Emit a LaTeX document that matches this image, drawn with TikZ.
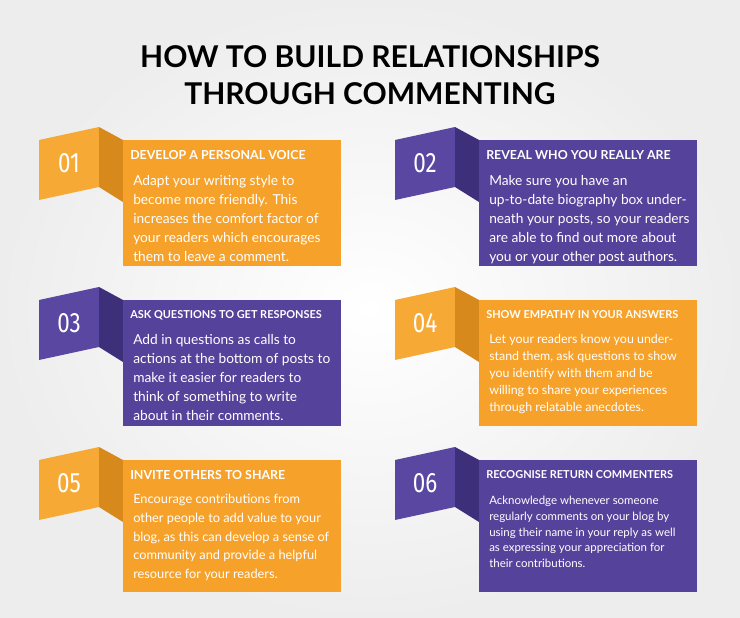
\documentclass[tikz,border=0pt]{standalone}
\usepackage{fontspec}
\setmainfont{Lato}
\newfontfamily\numfont{Fira Sans}
\usetikzlibrary{positioning}

\definecolor{orangemain}{HTML}{F6A12A}
\definecolor{orangeside}{HTML}{D8891C}
\definecolor{orangefront}{HTML}{F7A936}
\definecolor{purplemain}{HTML}{55429B}
\definecolor{purpleside}{HTML}{3D2F7A}
\definecolor{purplefront}{HTML}{5A47A2}

\tikzset{
	heading/.style={anchor=west,text=white,font=\bfseries\fontsize{9.3}{11}\selectfont,inner sep=0pt},
	bodytext/.style={anchor=north west,text=white,align=left,inner sep=0pt},
	number/.style={text=white,font=\numfont\fontsize{21}{22}\selectfont,xscale=.8,inner sep=0pt}
}

% #1 name, #2 x, #3 y, #4 height, #5 main, #6 side, #7 front, #8 number, #9 heading
\newcommand{\infocard}[9]{
	\fill[#7] (#2-84,#3) -- (#2-24,#3-13) -- (#2-24,#3+47) -- (#2-84,#3+60) -- cycle;
	\fill[#6] (#2-24,#3-13) -- (#2,#3) -- (#2,#3+62) -- (#2-24,#3+47) -- cycle;
	\fill[#5] (#2,#3) rectangle (#2+218,#3+#4);
	\node[number] (#1num) at (#2-54,#3+23) {#8};
	\node[heading] (#1head) at (#2+7,#3+15) {#9};
}

\begin{document}
\begin{tikzpicture}[x=0.75pt,y=-0.75pt]
	% background
	\shade[inner color=white,outer color=gray!14] (0,0) rectangle (740,618);
	\useasboundingbox (0,0) rectangle (740,618);

	% title
	\node[font=\bfseries\fontsize{22.5}{27.5}\selectfont,align=center] (title) at (370,75)
		{HOW TO BUILD RELATIONSHIPS\\THROUGH COMMENTING};

	% the six cards
	\infocard{a}{123}{140}{126}{orangemain}{orangeside}{orangefront}{01}{DEVELOP A PERSONAL VOICE}
	\infocard{b}{479}{140}{126}{purplemain}{purpleside}{purplefront}{02}{REVEAL WHO YOU REALLY ARE}
	\infocard{c}{123}{300}{126}{purplemain}{purpleside}{purplefront}{03}{\fontsize{8.2}{10}\selectfont ASK QUESTIONS TO GET RESPONSES}
	\infocard{d}{479}{300}{126}{orangemain}{orangeside}{orangefront}{04}{\fontsize{8.2}{10}\selectfont SHOW EMPATHY IN YOUR ANSWERS}
	\infocard{e}{123}{460}{132}{orangemain}{orangeside}{orangefront}{05}{INVITE OTHERS TO SHARE}
	\infocard{f}{479}{460}{132}{purplemain}{purpleside}{purplefront}{06}{\fontsize{8.2}{10}\selectfont RECOGNISE RETURN COMMENTERS}

	% card texts
	\node[bodytext,font=\fontsize{10.3}{14.2}\selectfont] (abody) at (133,175)
		{Adapt your writing style to\\become more friendly. This\\increases the comfort factor of\\your readers which encourages\\them to leave a comment.};
	\node[bodytext,font=\fontsize{10.3}{14.2}\selectfont] (bbody) at (489,175)
		{Make sure you have an\\up-to-date biography box under-\\neath your posts, so your readers\\are able to find out more about\\you or your other post authors.};
	\node[bodytext,font=\fontsize{10.3}{14.2}\selectfont] (cbody) at (133,334)
		{Add in questions as calls to\\actions at the bottom of posts to\\make it easier for readers to\\think of something to write\\about in their comments.};
	\node[bodytext,font=\fontsize{9.3}{12.8}\selectfont] (dbody) at (489,334)
		{Let your readers know you under-\\stand them, ask questions to show\\you identify with them and be\\willing to share your experiences\\through relatable anecdotes.};
	\node[bodytext,font=\fontsize{9.6}{14}\selectfont] (ebody) at (133,494)
		{Encourage contributions from\\other people to add value to your\\blog, as this can develop a sense of\\community and provide a helpful\\resource for your readers.};
	\node[bodytext,font=\fontsize{8.6}{11.8}\selectfont] (fbody) at (489,496)
		{Acknowledge whenever someone\\regularly comments on your blog by\\using their name in your reply as well\\as expressing your appreciation for\\their contributions.};
\end{tikzpicture}
\end{document}
